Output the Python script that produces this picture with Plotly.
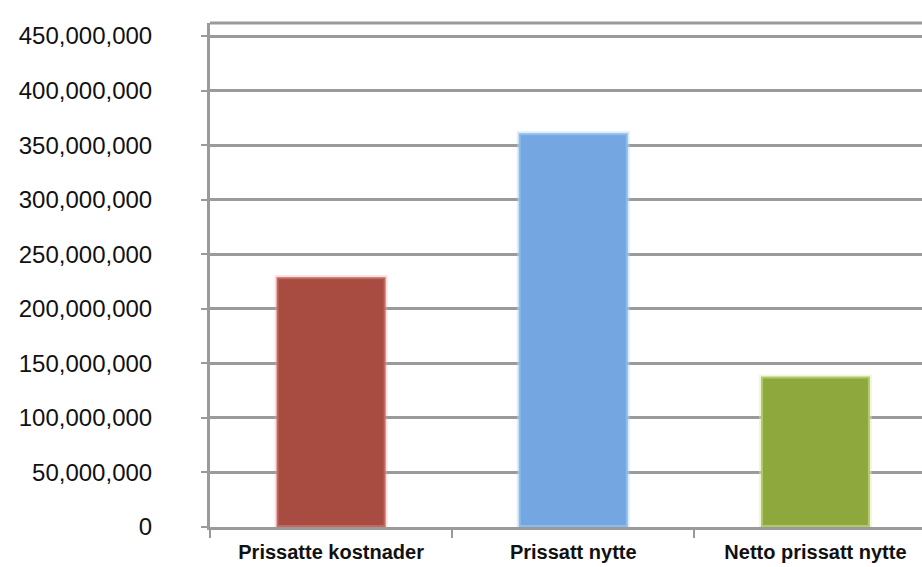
import plotly.graph_objects as go

categories = ["Prissatte kostnader", "Prissatt nytte", "Netto prissatt nytte"]
values = [229_000_000, 361_000_000, 138_000_000]
bar_colors = ["#A84B40", "#74A6E2", "#8EA83E"]
glow_colors = ["rgba(240,160,160,0.35)", "rgba(170,215,245,0.45)", "rgba(225,240,170,0.45)"]
tick_values = [0, 50_000_000, 100_000_000, 150_000_000, 200_000_000, 250_000_000,
               300_000_000, 350_000_000, 400_000_000, 450_000_000]
tick_labels = ["0", "50,000,000", "100,000,000", "150,000,000", "200,000,000",
               "250,000,000", "300,000,000", "350,000,000", "400,000,000", "450,000,000"]

fig = go.Figure()
fig.add_trace(go.Bar(
    x=categories, y=values,
    marker=dict(color=bar_colors, line=dict(color=glow_colors, width=4)),
    width=0.45,
))

grid_color = "#9A9A9A"
fig.update_layout(
    width=922, height=567,
    margin=dict(l=210, r=0, t=23, b=40),
    paper_bgcolor="white", plot_bgcolor="white",
    showlegend=False,
    xaxis=dict(
        type="category", range=[-0.5, 2.44],
        tickson="boundaries", ticks="outside", ticklen=8, tickwidth=2, tickcolor=grid_color,
        showline=True, linecolor=grid_color, linewidth=3,
        showgrid=False,
        tickfont=dict(family="Liberation Sans, Arial, sans-serif",
                      size=20, color="#111111", weight="bold"),
        ticklabelstandoff=5,
    ),
    yaxis=dict(
        range=[0, 462_000_000],
        tickvals=tick_values, ticktext=tick_labels,
        ticks="outside", ticklen=6, tickwidth=2, tickcolor=grid_color,
        showgrid=True, gridcolor=grid_color, gridwidth=3,
        showline=True, linecolor=grid_color, linewidth=3,
        zeroline=False,
        tickfont=dict(family="Liberation Sans, Arial, sans-serif", size=24, color="#111111"),
        ticklabelstandoff=44,
    ),
    shapes=[dict(type="line", xref="paper", yref="paper", x0=0, x1=1, y0=1, y1=1,
                 line=dict(color=grid_color, width=3))],
)

fig.write_html("out.html")
